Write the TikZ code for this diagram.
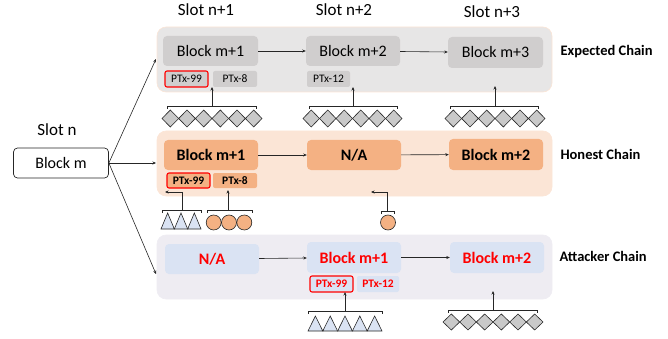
\documentclass[tikz,border=0pt]{standalone}
\usepackage{fontspec}
\setmainfont{Carlito}
\usetikzlibrary{arrows.meta}
\definecolor{expbg}{HTML}{E7E6E6}
\definecolor{expblk}{HTML}{D0CECE}
\definecolor{honbg}{HTML}{FBE5D6}
\definecolor{honblk}{HTML}{F4B183}
\definecolor{attbg}{HTML}{EEECF2}
\definecolor{attblk}{HTML}{DAE3F3}
\definecolor{ptred}{HTML}{FF0000}
\definecolor{lnc}{HTML}{262626}
\definecolor{dmdc}{HTML}{C9C9C9}
\newcommand\dmrow[4]{% x0, w, yc, half height
  \foreach \i in {0,...,5}{\draw[dmd] ({#1+#2*\i},#3) -- ({#1+#2*\i+#2/2},{#3-#4}) -- ({#1+#2*(\i+1)},#3) -- ({#1+#2*\i+#2/2},{#3+#4}) -- cycle;}}
\newcommand\trirow[5]{% x0, w, ytop, ybot, n-1
  \foreach \i in {0,...,#5}{\draw[tri] ({#1+#2*\i},#4) -- ({#1+#2*\i+#2/2},#3) -- ({#1+#2*(\i+1)},#4) -- cycle;}}
\newcommand\brkt[3]{\draw[lnk] (#1,{#3+3}) -- (#1,#3) -- (#2,#3) -- (#2,{#3+3});}
\begin{document}
\begin{tikzpicture}[x=1pt,y=-1pt,
  chainbg/.style={rounded corners=9pt, line width=0.6pt},
  blk/.style={rounded corners=4pt, minimum width=94pt, minimum height=30pt, inner sep=0pt, font=\fontsize{16}{18}\selectfont},
  ptx/.style={rounded corners=2pt, minimum width=43pt, minimum height=16pt, inner sep=0pt, font=\fontsize{11.5}{13}\selectfont},
  redbox/.style={draw=ptred, line width=1.1pt},
  arr/.style={draw=lnc, line width=0.6pt, -{Stealth[length=3.5pt,width=3pt]}},
  lnk/.style={draw=lnc, line width=0.6pt},
  dmd/.style={draw=lnc, fill=dmdc, line width=0.6pt},
  tri/.style={draw=lnc, fill=attblk, line width=0.6pt},
  circ/.style={draw=lnc, fill=honblk, line width=0.6pt},
  lbl/.style={font=\fontsize{17}{19}\selectfont},
  chlbl/.style={anchor=west, font=\fontsize{14.5}{16}\bfseries\selectfont}]
\useasboundingbox (0,0) rectangle (668,339);

% slot labels
\node[lbl] (s0) at (57,130) {Slot n};
\node[lbl] (s1) at (206,10) {Slot n+1};
\node[lbl] (s2) at (344,10) {Slot n+2};
\node[lbl] (s3) at (492,12) {Slot n+3};

% block m
\node[draw=lnc, line width=0.7pt, rounded corners=4pt, minimum width=95pt, minimum height=30pt, inner sep=0pt, font=\fontsize{16}{18}\selectfont] (bm) at (61,163) {Block m};

% ===== Expected chain =====
\node[chainbg, fill=expbg, draw=honbg, minimum width=395pt, minimum height=65pt] (ebg) at (354.5,59.5) {};
\node[blk, fill=expblk, minimum width=95pt] (e1) at (210.5,51) {Block m+1};
\node[blk, fill=expblk] (e2) at (353,51) {Block m+2};
\node[blk, fill=expblk, minimum width=95pt, minimum height=31pt] (e3) at (495.5,52.5) {Block m+3};
\node[ptx, fill=expblk, redbox] (ep1) at (186.5,79) {PTx-99};
\node[ptx, fill=expblk, minimum width=44pt] (ep2) at (235,79) {PTx-8};
\node[ptx, fill=expblk] (ep3) at (328.5,79) {PTx-12};
\draw[arr] (e1) -- (e2);
\draw[arr] (e2) -- (e3);
\node[chlbl] (lexp) at (557,52) {Expected Chain};

\brkt{167}{256}{106}
\brkt{309}{397}{106}
\brkt{450}{538}{106}
\coordinate (ec1) at (212,106); \coordinate (et1) at (212,87);
\coordinate (ec2) at (353,106); \coordinate (et2) at (353,87);
\coordinate (ec3) at (495,106); \coordinate (et3) at (495,86);
\draw[arr] (ec1) -- (et1);
\draw[arr] (ec2) -- (et2);
\draw[arr] (ec3) -- (et3);
\dmrow{162}{16.67}{118.5}{8.5}
\dmrow{303}{16.5}{118.5}{8.5}
\dmrow{445}{16.67}{118.5}{8.5}

% ===== Honest chain =====
\node[chainbg, fill=honbg, draw=honbg, minimum width=395pt, minimum height=65pt] (hbg) at (354.5,163.5) {};
\node[blk, fill=honblk, font=\fontsize{16}{18}\bfseries\selectfont] (h1) at (211,155) {Block m+1};
\node[blk, fill=honblk, font=\fontsize{16}{18}\bfseries\selectfont] (h2) at (354,155) {N/A};
\node[blk, fill=honblk, font=\fontsize{16}{18}\bfseries\selectfont, minimum height=31pt] (h3) at (496,154.5) {Block m+2};
\node[ptx, fill=honblk, redbox, minimum height=15pt, font=\fontsize{11.5}{13}\bfseries\selectfont] (hp1) at (188.5,180.5) {PTx-99};
\node[ptx, fill=honblk, minimum width=44pt, minimum height=15pt, font=\fontsize{11.5}{13}\bfseries\selectfont] (hp2) at (235,180.5) {PTx-8};
\draw[arr] (h1) -- (h2);
\draw[arr] (h2) -- (h3);
\node[chlbl] (lhon) at (557,154) {Honest Chain};

\brkt{162}{201}{210}
\brkt{207}{252}{210}
\brkt{381}{394}{211}
\coordinate (hc1) at (182,210); \coordinate (ht1) at (165,192);
\coordinate (hc2) at (228,210); \coordinate (ht2) at (228,190);
\coordinate (hc3) at (387,211); \coordinate (ht3) at (371,192);
\draw[arr] (hc1) |- (ht1);
\draw[arr] (hc2) -- (ht2);
\draw[arr] (hc3) |- (ht3);
\trirow{161}{13.33}{213}{229}{2}
\foreach \cx/\nm in {213.7/c1, 229/c2, 244.3/c3}{\node[circ, circle, minimum size=15pt, inner sep=0pt] (\nm) at (\cx,222.5) {};}
\node[circ, circle, minimum size=15pt, inner sep=0pt] (c4) at (388,222.5) {};

% ===== Attacker chain =====
\node[chainbg, fill=attbg, draw=attbg, minimum width=395pt, minimum height=64pt] (abg) at (354.5,267) {};
\node[blk, fill=attblk, text=ptred, font=\fontsize{16}{18}\bfseries\selectfont] (a1) at (212,259) {N/A};
\node[blk, fill=attblk, text=ptred, font=\fontsize{16}{18}\bfseries\selectfont, minimum height=31pt] (a2) at (354,257.5) {Block m+1};
\node[blk, fill=attblk, text=ptred, font=\fontsize{16}{18}\bfseries\selectfont, minimum height=31pt] (a3) at (497,257.5) {Block m+2};
\node[ptx, fill=attblk, redbox, text=ptred, font=\fontsize{11.5}{13}\bfseries\selectfont] (ap1) at (331.5,284) {PTx-99};
\node[ptx, fill=attblk, text=ptred, minimum width=42pt, font=\fontsize{11.5}{13}\bfseries\selectfont] (ap2) at (378,284) {PTx-12};
\draw[arr] (a1) -- (a2);
\draw[arr] (a2) -- (a3);
\node[chlbl] (latt) at (556,256) {Attacker Chain};

\brkt{308}{382}{311}
\brkt{448}{537}{310}
\coordinate (ac1) at (345,311); \coordinate (at1) at (345,292);
\coordinate (ac2) at (493,310); \coordinate (at2) at (493,291);
\draw[arr] (ac1) -- (at1);
\draw[arr] (ac2) -- (at2);
\trirow{308}{14.8}{316}{331}{4}
\dmrow{443}{16.67}{322}{8}

% ===== from block m =====
\coordinate (to1) at (156,59);
\coordinate (to2) at (156,163);
\coordinate (to3) at (156,274);
\draw[arr] (bm.east) -- (to1);
\draw[arr] (bm.east) -- (to2);
\draw[arr] (bm.east) -- (to3);
\end{tikzpicture}
\end{document}
